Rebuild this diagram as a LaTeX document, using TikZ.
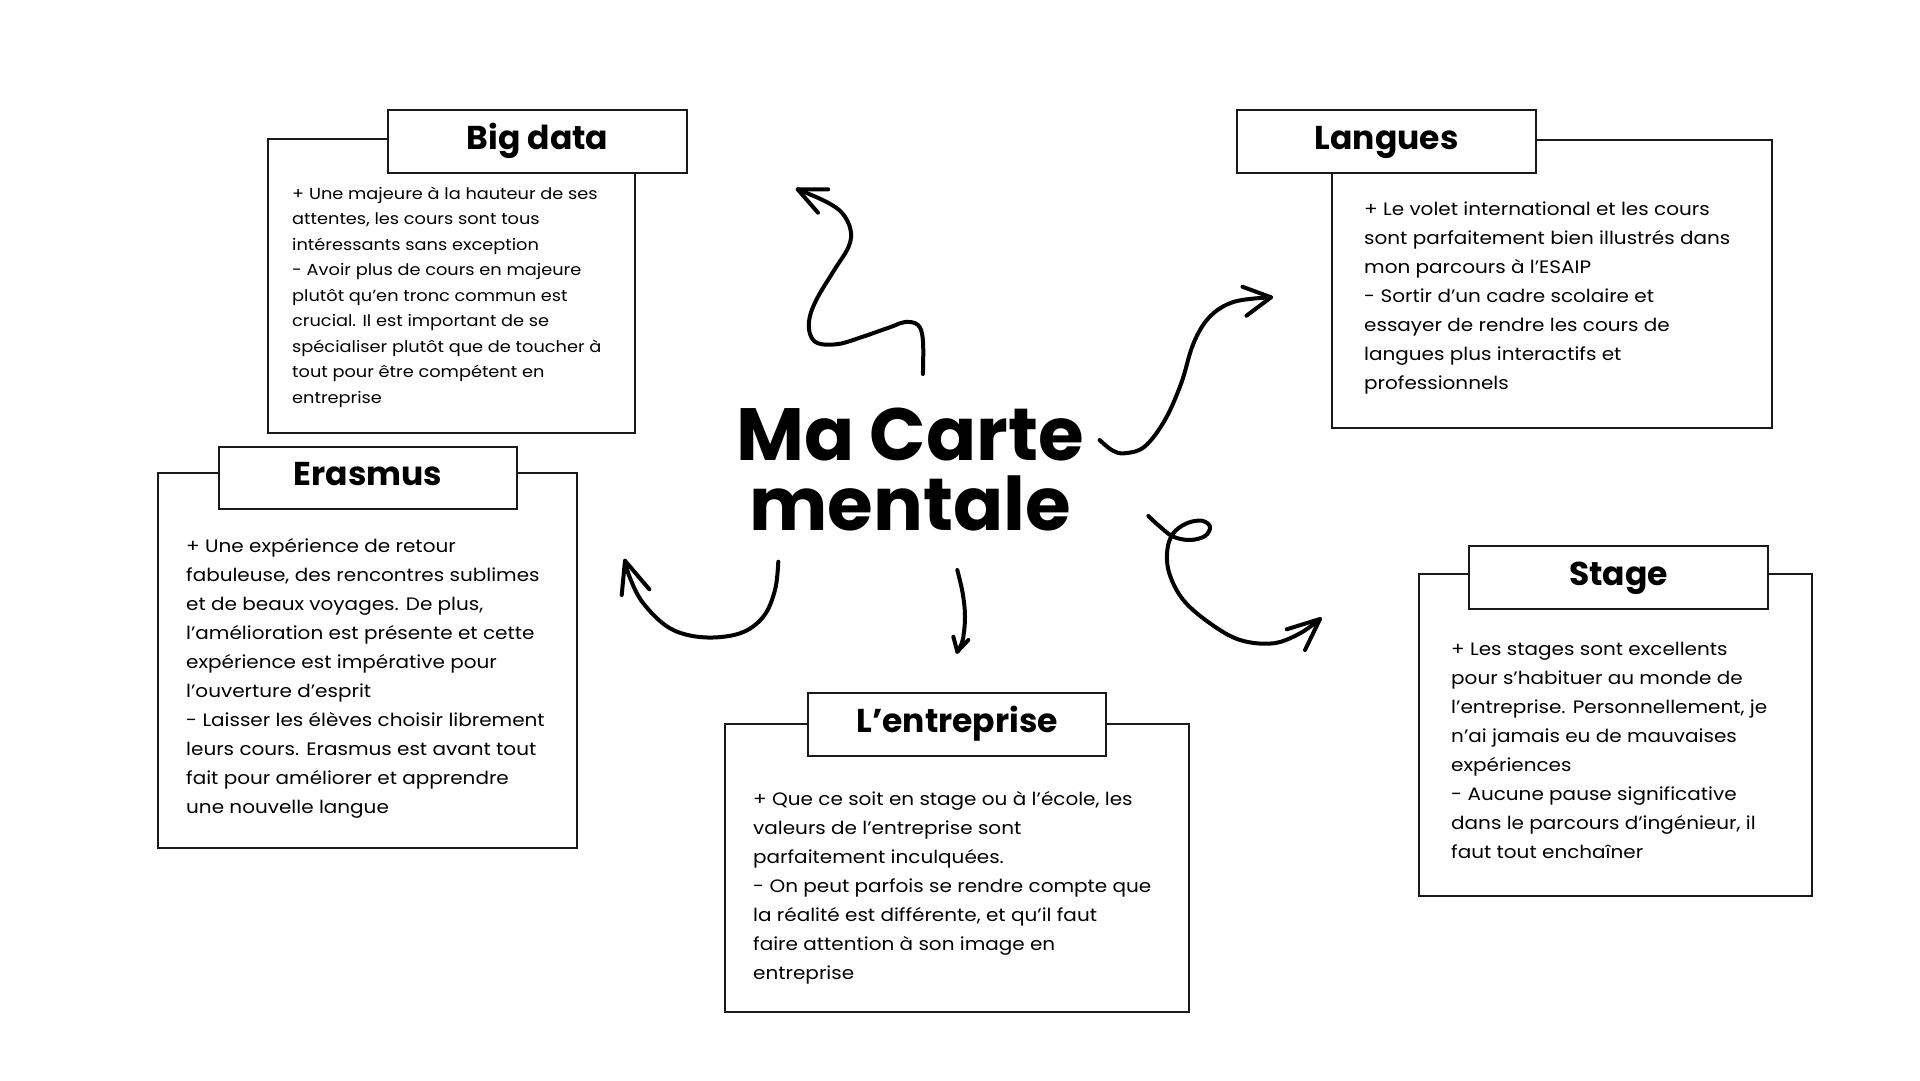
\documentclass[tikz,border=0pt]{standalone}
\usepackage{fontspec}
\setmainfont{Poppins}
\newfontfamily\bodyfont{Poppins}[FakeStretch=1.11]
\definecolor{linec}{HTML}{1A1A1A}
\tikzset{
  bodybox/.style={draw=linec, line width=2pt, fill=white, inner sep=0pt, anchor=north west},
  titlebox/.style={draw=linec, line width=2.2pt, fill=white, inner sep=0pt, anchor=north west,
    text height=23pt, text depth=8pt, font=\fontsize{33}{36}\selectfont\bfseries},
  bodytext/.style={font=\bodyfont\fontsize{18}{29}\selectfont, align=left, anchor=north west, inner sep=0pt, text=black},
  smalltext/.style={font=\bodyfont\fontsize{16}{25.5}\selectfont, align=left, anchor=north west, inner sep=0pt, text=black},
  swoosh/.style={line width=4pt, line cap=round, line join=round, black},
}
\newcommand{\topstrut}{\rule{0pt}{20pt}}
\begin{document}
\begin{tikzpicture}[x=1pt,y=-1pt]
\useasboundingbox (0,0) rectangle (1920,1080);
\fill[white] (0,0) rectangle (1920,1080);

% Big data
\node[bodybox, minimum width=367pt, minimum height=294pt] (bdbody) at (267,138) {};
\node[titlebox, minimum width=299pt, minimum height=63pt] (bdtitle) at (387,109) {Big data};
\node[smalltext] (bdtext) at (292,179) {\topstrut+ Une majeure à la hauteur de ses\\
attentes, les cours sont tous\\
intéressants sans exception\\
- Avoir plus de cours en majeure\\
plutôt qu’en tronc commun est\\
crucial. Il est important de se\\
spécialiser plutôt que de toucher à\\
tout pour être compétent en\\
entreprise};

% Langues
\node[bodybox, minimum width=440pt, minimum height=288pt] (lgbody) at (1331,139) {};
\node[titlebox, minimum width=299pt, minimum height=63pt] (lgtitle) at (1236,109) {Langues};
\node[bodytext] (lgtext) at (1364,195) {\topstrut+ Le volet international et les cours\\
sont parfaitement bien illustrés dans\\
mon parcours à l’ESAIP\\
- Sortir d’un cadre scolaire et\\
essayer de rendre les cours de\\
langues plus interactifs et\\
professionnels};

% Erasmus
\node[bodybox, minimum width=419pt, minimum height=375pt] (erbody) at (157,472) {};
\node[titlebox, minimum width=298pt, minimum height=62pt] (ertitle) at (218,446) {Erasmus};
\node[bodytext] (ertext) at (186,532) {\topstrut+ Une expérience de retour\\
fabuleuse, des rencontres sublimes\\
et de beaux voyages. De plus,\\
l’amélioration est présente et cette\\
expérience est impérative pour\\
l’ouverture d’esprit\\
- Laisser les élèves choisir librement\\
leurs cours. Erasmus est avant tout\\
fait pour améliorer et apprendre\\
une nouvelle langue};

% L'entreprise
\node[bodybox, minimum width=464pt, minimum height=288pt] (enbody) at (724,723) {};
\node[titlebox, minimum width=298pt, minimum height=63pt] (entitle) at (807,692) {L’entreprise};
\node[bodytext] (entext) at (753,785) {\topstrut+ Que ce soit en stage ou à l’école, les\\
valeurs de l’entreprise sont\\
parfaitement inculquées.\\
- On peut parfois se rendre compte que\\
la réalité est différente, et qu’il faut\\
faire attention à son image en\\
entreprise};

% Stage
\node[bodybox, minimum width=393pt, minimum height=322pt] (stbody) at (1418,573) {};
\node[titlebox, minimum width=299pt, minimum height=63pt] (sttitle) at (1468,545) {Stage};
\node[bodytext] (sttext) at (1451,635) {\topstrut+ Les stages sont excellents\\
pour s’habituer au monde de\\
l’entreprise. Personnellement, je\\
n’ai jamais eu de mauvaises\\
expériences\\
- Aucune pause significative\\
dans le parcours d’ingénieur, il\\
faut tout enchaîner};

% Centre
\node[font=\fontsize{74}{70}\selectfont\bfseries, align=center, anchor=north, inner sep=0pt] (centre) at (910,380) {\rule{0pt}{80pt}Ma Carte\\mentale};

% Arrows
% to Big data
\coordinate (a1tip) at (797.6,189.3);
\draw[swoosh] plot[smooth, tension=0.6] coordinates {(922.9,374) (922.9,340) (918,325) (905,322) (891.4,326.7) (862.9,336.7) (838.4,344) (818,343.3) (809.8,333.3) (809.8,316.7) (818,296.7) (834.3,270) (848.6,246.7) (850.6,230) (842.4,213.3) (826.1,201.7) (797.6,189.3)};
\draw[swoosh] (828.2,189.3) -- (a1tip) -- (818,212.7);
% to Langues
\coordinate (a2tip) at (1271,297.3);
\draw[swoosh] plot[smooth, tension=0.6] coordinates {(1099.6,440) (1111.8,450) (1124.1,453.3) (1144.5,446.7) (1164.9,420) (1181.2,383.3) (1193.5,343.3) (1209.8,316.7) (1234.3,301.7) (1271,297.3)};
\draw[swoosh] (1242.4,286.7) -- (a2tip) -- (1246.5,315.7);
% to Stage
\coordinate (a3tip) at (1320,619);
\draw[swoosh] plot[smooth, tension=0.6] coordinates {(1148.3,516) (1160,526.7) (1173.3,536.7) (1190,540) (1205,536) (1210,526.7) (1201.7,520.7) (1186.7,523.3) (1173.3,533.3) (1167.3,550) (1169.3,573.3) (1183.3,600) (1210,623.3) (1240,640) (1273.3,643.3) (1300,633.3) (1320,619)};
\draw[swoosh] (1286.7,629.3) -- (a3tip) -- (1305,650);
% to Erasmus
\coordinate (a4tip) at (625,560.7);
\draw[swoosh] plot[smooth, tension=0.6] coordinates {(778.3,561.7) (775,590) (763.3,616.7) (740,633.3) (703.3,637.3) (670,628.3) (643.3,603.3) (630,578) (625,560.7)};
\draw[swoosh] (621.7,595) -- (a4tip) -- (649.3,589.3);
% to L'entreprise
\coordinate (a5tip) at (957.3,651.7);
\draw[swoosh] plot[smooth, tension=0.6] coordinates {(957.3,570) (962.7,593.3) (965,616.7) (962.7,640) (957.3,651.7)};
\draw[swoosh] (953.3,636.7) -- (a5tip) -- (968.3,640);
\end{tikzpicture}
\end{document}
